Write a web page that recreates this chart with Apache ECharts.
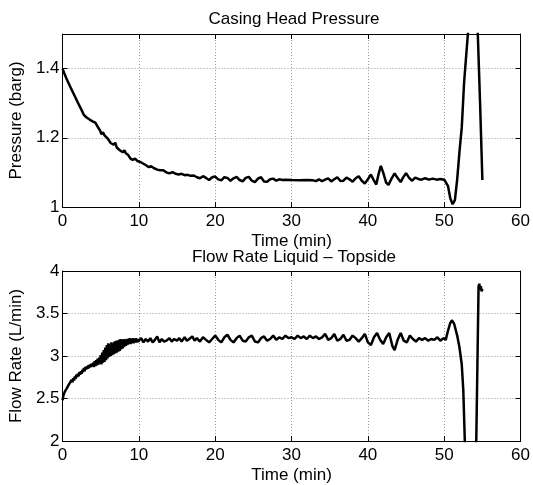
<!DOCTYPE html>
<html>
<head>
<meta charset="utf-8">
<script src="https://cdn.jsdelivr.net/npm/echarts@6/dist/echarts.min.js"></script>
<style>
  html, body { margin: 0; padding: 0; background: #fff; }
  #chart { width: 533px; height: 485px; }
</style>
</head>
<body>
<div id="chart"></div>
<script>
// casing head pressure (barg) vs time (min)
const pressureTime = [
  0, 0.25, 0.5, 0.75, 1, 1.5, 2, 2.5, 2.8, 3.2, 3.6, 4, 4.3, 4.6, 4.9, 5.1, 5.3, 5.5, 5.7, 5.9,
  6.1, 6.3, 6.5, 6.7, 6.9, 7.1, 7.3, 7.5, 7.7, 7.9, 8.1, 8.3, 8.6, 8.9, 9.2, 9.5, 9.8, 10.2, 10.6, 11,
  11.3, 11.6, 12, 12.4, 12.8, 13.2, 13.6, 14, 14.4, 14.8, 15.2, 15.6, 16, 16.4, 16.8, 17.2, 17.6, 18, 18.4, 18.8,
  19.2, 19.6, 20, 20.4, 20.8, 21.2, 21.6, 22, 22.4, 22.8, 23.2, 23.6, 24, 24.4, 24.8, 25.2, 25.6, 26, 26.4, 26.8,
  27.2, 27.6, 28, 28.4, 28.8, 29.2, 30, 31, 32, 32.8, 33.2, 33.6, 34, 34.4, 34.8, 35.2, 35.6, 36, 36.4, 36.8,
  37.2, 37.6, 38, 38.4, 38.8, 39.2, 39.6, 40, 40.4, 40.8, 41.1, 41.4, 41.7, 42, 42.4, 42.7, 43.1, 43.5, 43.9, 44.3,
  44.6, 45, 45.4, 45.8, 46.2, 46.6, 47, 47.5, 48, 48.5, 49, 49.5, 50, 50.2, 50.5, 50.8, 51.1, 51.4, 51.7, 52,
  52.3, 52.6, 53.1, 53.5, 53.8, 54.1, 54.4, 54.7, 55
];
const pressureValue = [
  1.400, 1.385, 1.372, 1.360, 1.348, 1.325, 1.302, 1.280, 1.266, 1.258, 1.252, 1.247, 1.244, 1.232, 1.222, 1.210, 1.216, 1.207, 1.212, 1.198,
  1.192, 1.185, 1.190, 1.180, 1.186, 1.172, 1.170, 1.164, 1.168, 1.158, 1.164, 1.155, 1.150, 1.140, 1.136, 1.140, 1.133, 1.130, 1.125, 1.120,
  1.115, 1.118, 1.112, 1.108, 1.106, 1.106, 1.100, 1.097, 1.101, 1.096, 1.094, 1.096, 1.092, 1.093, 1.090, 1.091, 1.086, 1.083, 1.089, 1.084,
  1.078, 1.086, 1.088, 1.080, 1.077, 1.086, 1.084, 1.076, 1.083, 1.087, 1.078, 1.074, 1.084, 1.087, 1.076, 1.072, 1.082, 1.086, 1.074, 1.073,
  1.080, 1.082, 1.076, 1.080, 1.078, 1.079, 1.078, 1.077, 1.078, 1.077, 1.075, 1.080, 1.075, 1.079, 1.083, 1.074, 1.080, 1.086, 1.075, 1.076,
  1.085, 1.080, 1.073, 1.083, 1.089, 1.076, 1.068, 1.080, 1.094, 1.076, 1.065, 1.095, 1.119, 1.100, 1.070, 1.064, 1.082, 1.097, 1.084, 1.072,
  1.085, 1.098, 1.084, 1.076, 1.085, 1.081, 1.079, 1.083, 1.079, 1.082, 1.079, 1.081, 1.079, 1.078, 1.060, 1.025, 1.008, 1.020, 1.080, 1.160,
  1.230, 1.358, 1.500, 1.620, 1.660, 1.620, 1.500, 1.300, 1.078
];

// liquid flow rate topside (L/min) vs time (min)
const flowTime = [
  0, 0.1, 0.2, 0.3, 0.4, 0.5, 0.6, 0.7, 0.8, 0.9, 1, 1.1, 1.2, 1.3, 1.4, 1.5, 1.6, 1.7, 1.8, 1.9,
  2, 2.1, 2.2, 2.3, 2.4, 2.5, 2.6, 2.7, 2.8, 2.9, 3, 3.1, 3.2, 3.3, 3.4, 3.5, 3.6, 3.7, 3.8, 3.9,
  4, 4.1, 4.2, 4.3, 4.4, 4.5, 4.6, 4.7, 4.8, 4.9, 5, 5.1, 5.2, 5.3, 5.4, 5.5, 5.6, 5.7, 5.8, 5.9,
  6, 6.1, 6.2, 6.3, 6.4, 6.5, 6.6, 6.7, 6.8, 6.9, 7, 7.1, 7.2, 7.3, 7.4, 7.5, 7.6, 7.7, 7.8, 7.9,
  8, 8.1, 8.2, 8.3, 8.4, 8.5, 8.6, 8.7, 8.8, 8.9, 9, 9.1, 9.2, 9.3, 9.4, 9.5, 9.6, 9.7, 9.8, 9.9,
  10, 10.3, 10.6, 10.9, 11.2, 11.5, 11.8, 12.1, 12.4, 12.7,
  13, 13.3, 13.6, 14, 14.3, 14.6, 15, 15.3, 15.6, 16, 16.3, 16.6, 17, 17.3, 17.6, 18, 18.4, 18.8, 19.2, 19.6,
  20, 20.4, 20.8, 21.2, 21.6, 22, 22.4, 22.8, 23.2, 23.6, 24, 24.4, 24.8, 25.2, 25.6, 26, 26.4, 26.8, 27.2, 27.6,
  28, 28.4, 28.8, 29.2, 29.6, 30, 30.4, 30.8, 31.2, 31.6, 32, 32.4, 32.8, 33.2, 33.6, 34, 34.4, 34.8, 35.2, 35.6,
  36, 36.4, 36.8, 37.2, 37.6, 38, 38.4, 38.8, 39.2, 39.6, 40, 40.4, 40.8, 41.2, 41.6, 42, 42.4, 42.8, 43.2, 43.5,
  43.9, 44.3, 44.7, 45.1, 45.5, 45.9, 46.3, 46.7, 47.1, 47.5, 47.9, 48.3, 48.7, 49.1, 49.5, 49.9, 50.2, 50.5, 50.8, 51,
  51.3, 51.7, 52, 52.3, 52.5, 52.7, 52.9, 53.3, 53.7, 54, 54.2, 54.4, 54.5, 54.6, 54.7, 54.8, 54.9, 55
];
const flowValue = [
  2.48, 2.53, 2.55, 2.58, 2.56, 2.61, 2.62, 2.60, 2.66, 2.64, 2.69, 2.67, 2.72, 2.69, 2.74, 2.71, 2.76, 2.73, 2.78, 2.75,
  2.79, 2.76, 2.81, 2.78, 2.82, 2.79, 2.84, 2.81, 2.86, 2.82, 2.87, 2.84, 2.88, 2.85, 2.89, 2.86, 2.90, 2.87, 2.91, 2.88,
  2.92, 2.87, 2.94, 2.88, 2.95, 2.89, 2.97, 2.90, 2.98, 2.91, 3.01, 2.90, 3.04, 2.92, 3.07, 2.93, 3.10, 2.95, 3.13, 2.97,
  3.15, 2.99, 3.14, 3.00, 3.16, 3.01, 3.15, 3.02, 3.17, 3.03, 3.18, 3.04, 3.18, 3.05, 3.19, 3.06, 3.20, 3.08, 3.19, 3.09,
  3.20, 3.11, 3.19, 3.12, 3.20, 3.13, 3.20, 3.14, 3.21, 3.14, 3.20, 3.15, 3.21, 3.15, 3.20, 3.16, 3.21, 3.16, 3.20, 3.17,
  3.15, 3.21, 3.16, 3.20, 3.17, 3.21, 3.16, 3.19, 3.23, 3.16,
  3.20, 3.17, 3.18, 3.21, 3.17, 3.20, 3.18, 3.21, 3.17, 3.22, 3.18, 3.20, 3.23, 3.18, 3.21, 3.17, 3.22, 3.19, 3.16, 3.20,
  3.24, 3.19, 3.16, 3.22, 3.25, 3.19, 3.16, 3.21, 3.24, 3.18, 3.17, 3.22, 3.24, 3.17, 3.16, 3.21, 3.23, 3.18, 3.20, 3.24,
  3.19, 3.22, 3.20, 3.24, 3.21, 3.22, 3.20, 3.24, 3.21, 3.23, 3.20, 3.24, 3.21, 3.23, 3.20, 3.22, 3.26, 3.19, 3.21, 3.26,
  3.18, 3.20, 3.25, 3.18, 3.19, 3.24, 3.21, 3.17, 3.21, 3.26, 3.16, 3.13, 3.22, 3.27, 3.19, 3.14, 3.22, 3.27, 3.12, 3.07,
  3.19, 3.27, 3.18, 3.16, 3.24, 3.20, 3.17, 3.21, 3.19, 3.21, 3.18, 3.20, 3.19, 3.22, 3.18, 3.21, 3.19, 3.30, 3.39, 3.42,
  3.38, 3.24, 3.10, 2.90, 2.60, 2.00, 1.50, 1.00, 0.90, 1.40, 2.00, 3.21, 3.82, 3.85, 3.78, 3.82, 3.76, 3.79
];

const xTicks = [0, 60, 10];           // min, max, step
const pressureTicks = [1, 1.5, 0.2];
const flowTicks = [2, 4, 0.5];

const FONT = 'Liberation Sans, Arial, Helvetica, sans-serif';

function zip(ts, vs) {
  return ts.map(function (t, i) { return [t, vs[i]]; });
}

function mainX(gridIndex) {
  return {
    type: 'value', gridIndex: gridIndex, min: xTicks[0], max: xTicks[1], interval: xTicks[2],
    name: 'Time (min)', nameLocation: 'middle', nameGap: 26,
    nameTextStyle: { color: '#000', fontSize: 17, fontFamily: FONT },
    axisLine: { show: true, onZero: false, lineStyle: { color: '#000', width: 1 } },
    axisTick: { show: true, inside: true, length: 5, lineStyle: { color: '#000' } },
    axisLabel: { color: '#000', fontSize: 17, fontFamily: FONT, margin: 6 },
    splitLine: { show: true, lineStyle: { color: '#999', type: [1, 2], width: 1 } }
  };
}
function mirrorX(gridIndex) {
  return {
    type: 'value', gridIndex: gridIndex, position: 'top', min: xTicks[0], max: xTicks[1], interval: xTicks[2],
    axisLine: { show: true, onZero: false, lineStyle: { color: '#000', width: 1 } },
    axisTick: { show: true, inside: true, length: 5, lineStyle: { color: '#000' } },
    axisLabel: { show: false }, splitLine: { show: false }
  };
}
function mainY(gridIndex, ticks, name) {
  return {
    type: 'value', gridIndex: gridIndex, min: ticks[0], max: ticks[1], interval: ticks[2],
    name: name, nameLocation: 'middle', nameGap: 23,
    nameTextStyle: { color: '#000', fontSize: 17, fontFamily: FONT },
    axisLine: { show: true, onZero: false, lineStyle: { color: '#000', width: 1 } },
    axisTick: { show: true, inside: true, length: 5, lineStyle: { color: '#000' } },
    axisLabel: { color: '#000', fontSize: 17, fontFamily: FONT, margin: 3, showMaxLabel: ticks === flowTicks,
      formatter: function (v) { return String(parseFloat(v.toFixed(2))); } },
    splitLine: { show: true, lineStyle: { color: '#999', type: [1, 2], width: 1 } }
  };
}
function mirrorY(gridIndex, ticks) {
  return {
    type: 'value', gridIndex: gridIndex, position: 'right', min: ticks[0], max: ticks[1], interval: ticks[2],
    axisLine: { show: true, onZero: false, lineStyle: { color: '#000', width: 1 } },
    axisTick: { show: true, inside: true, length: 5, lineStyle: { color: '#000' } },
    axisLabel: { show: false }, splitLine: { show: false }
  };
}

const chart = echarts.init(document.getElementById('chart'), null, { renderer: 'canvas' });
chart.setOption({
  backgroundColor: '#fff',
  animation: false,
  title: [
    { text: 'Casing Head Pressure', left: 289, top: 6, textAlign: 'center',
      textStyle: { color: '#000', fontSize: 17, fontWeight: 'normal', fontFamily: FONT } },
    { text: 'Flow Rate Liquid \u2013 Topside', left: 289, top: 244, textAlign: 'center',
      textStyle: { color: '#000', fontSize: 17, fontWeight: 'normal', fontFamily: FONT } }
  ],
  grid: [
    { left: 56, top: 34, width: 466, height: 173 },
    { left: 56, top: 271, width: 466, height: 174 }
  ],
  xAxis: [mainX(0), mirrorX(0), mainX(1), mirrorX(1)],
  yAxis: [
    mainY(0, pressureTicks, 'Pressure (barg)'), mirrorY(0, pressureTicks),
    mainY(1, flowTicks, 'Flow Rate (L/min)'), mirrorY(1, flowTicks)
  ],
  series: [
    { type: 'line', xAxisIndex: 0, yAxisIndex: 0, data: zip(pressureTime, pressureValue),
      showSymbol: false, clip: true, lineStyle: { color: '#000', width: 2.5 } },
    { type: 'line', xAxisIndex: 2, yAxisIndex: 2, data: zip(flowTime, flowValue),
      showSymbol: false, clip: true, lineStyle: { color: '#000', width: 2.5 } }
  ]
});
</script>
</body>
</html>
